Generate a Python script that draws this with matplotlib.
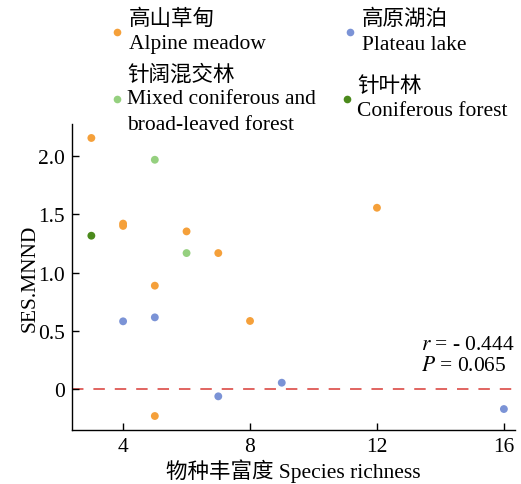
import matplotlib
matplotlib.use("Agg")
import matplotlib.pyplot as plt

plt.rcParams['font.family'] = ['Liberation Serif', 'Noto Sans CJK SC', 'DejaVu Sans']
plt.rcParams['mathtext.fontset'] = 'stix'

# Data
alpine_x = [3, 4, 4, 6, 7, 5, 8, 12, 5]
alpine_y = [2.155, 1.42, 1.40, 1.353, 1.167, 0.887, 0.584, 1.556, -0.232]
lake_x = [4, 5, 7, 9, 16]
lake_y = [0.581, 0.615, -0.063, 0.054, -0.172]
mixed_x = [5, 6]
mixed_y = [1.968, 1.167]
conif_x = [3]
conif_y = [1.316]

series = [
    (["高山草甸", "Alpine meadow"], alpine_x, alpine_y, "#F5A03A"),
    (["高原湖泊", "Plateau lake"], lake_x, lake_y, "#7B93D6"),
    (["针阔混交林", "Mixed coniferous and", "broad-leaved forest"], mixed_x, mixed_y, "#95D07F"),
    (["针叶林", "Coniferous forest"], conif_x, conif_y, "#4B8A1C"),
]

FS = 15.5
W, H = 521, 485
fig = plt.figure(figsize=(W / 100, H / 100), dpi=100)
ax = fig.add_axes([72 / W, 1 - 431 / H, (515 - 72) / W, (431 - 125) / H])

for label, xs, ys, c in series:
    ax.scatter(xs, ys, s=32, color=c, edgecolors='none', zorder=3)

ax.axhline(0, color='#D93A36', lw=1.1, dashes=(7.5, 6.5), zorder=1)

ax.set_xlim(2.39, 16.35)
ax.set_ylim(-0.352, 2.275)
ax.set_xticks([4, 8, 12, 16])
ax.set_yticks([0, 0.5, 1.0, 1.5, 2.0])
ax.set_yticklabels(["0", "0.5", "1.0", "1.5", "2.0"])
ax.tick_params(direction='in', length=5, width=1, labelsize=FS, pad=5)
for s in ['top', 'right']:
    ax.spines[s].set_visible(False)
for s in ['left', 'bottom']:
    ax.spines[s].set_linewidth(1.0)

ax.set_xlabel("物种丰富度 Species richness", fontsize=FS, labelpad=2)
ax.set_ylabel("SES.MNND", fontsize=FS, labelpad=-1)

fig.text(421 / W, 1 - 345 / H, "$r$ = - 0.444", ha='left', va='center', fontsize=FS)
fig.text(421 / W, 1 - 367 / H, "$P$ = 0.065", ha='left', va='center', fontsize=FS)

# Legend (manual)
leg_pos = [
    (117, 33, 129, [20, 45]),
    (350, 33, 362, [20, 45]),
    (117, 100, 127, [75, 100, 125]),
    (347, 100, 357, [87, 112]),
]
for (lines, xs, ys, c), (mx, my, tx, lys) in zip(series, leg_pos):
    fig.lines.append(plt.Line2D([mx / W], [1 - my / H], transform=fig.transFigure,
                                marker='o', markersize=5.5, color=c, markeredgewidth=0, linestyle='none'))
    for line, ly in zip(lines, lys):
        fig.text(tx / W, 1 - ly / H, line, ha='left', va='center', fontsize=FS)

fig.savefig("out.png", dpi=100)
